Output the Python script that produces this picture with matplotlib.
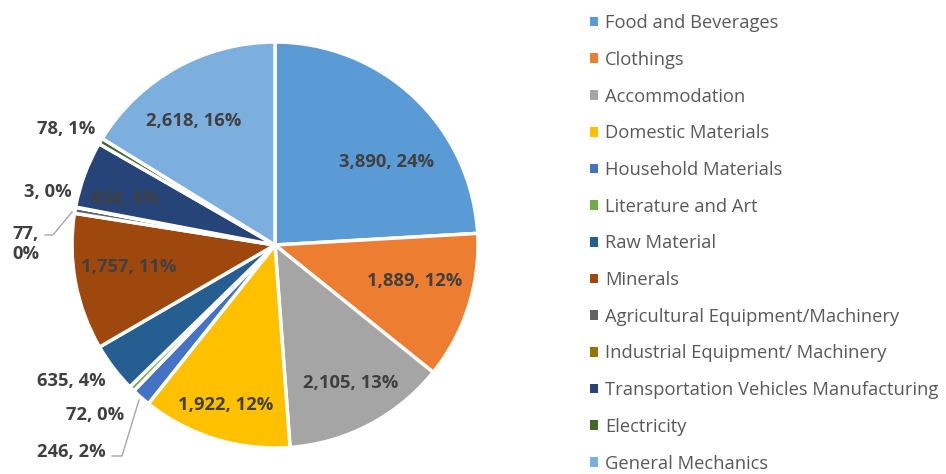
import matplotlib.pyplot as plt
from matplotlib.patches import Patch

categories = ['Food and Beverages', 'Clothings', 'Accommodation', 'Domestic Materials',
              'Household Materials', 'Literature and Art', 'Raw Material', 'Minerals',
              'Agricultural Equipment/Machinery', 'Industrial Equipment/ Machinery',
              'Transportation Vehicles Manufacturing', 'Electricity', 'General Mechanics']
values = [3890, 1889, 2105, 1922, 246, 72, 635, 1757, 77, 3, 858, 78, 2618]
percent_labels = ['24%', '12%', '13%', '12%', '2%', '0%', '4%', '11%', '0%', '0%', '5%', '1%', '16%']
colors = ['#5B9BD5', '#ED7D31', '#A5A5A5', '#FFC000', '#4472C4', '#70AD47', '#255E91',
          '#9E480E', '#636363', '#997300', '#264478', '#43682B', '#7CAFDD']

W, H = 946, 474
cx, cy, r = 275, 245, 203

def px(x, y):
    # pixel position -> pie data coords
    return (x - cx) / r, (cy - y) / r

plt.rcParams['font.family'] = ['Open Sans', 'DejaVu Sans']

fig = plt.figure(figsize=(W / 100, H / 100), dpi=100)
ax = fig.add_axes([(cx - r) / W, (H - cy - r) / H, 2 * r / W, 2 * r / H])

wedges, _ = ax.pie(values, colors=colors, startangle=90, counterclock=False, radius=1,
                   wedgeprops=dict(edgecolor='white', linewidth=2.5))
ax.set_xlim(-1, 1)
ax.set_ylim(-1, 1)
ax.set_aspect('equal')
ax.axis('off')

texts = [f'{v:,}, {p}' for v, p in zip(values, percent_labels)]
texts[8] = '77,\n0%'

# label positions (pixels): inside labels for big slices, outside for tiny ones
label_pos = {
    0: (387, 162), 1: (415, 281), 2: (351, 383), 3: (226, 405),
    4: (71, 452), 5: (95, 415), 6: (71, 381), 7: (129, 267),
    8: (26, 244), 9: (48, 192), 10: (125, 199), 11: (66, 129), 12: (194, 121),
}
for i, t in enumerate(texts):
    x, y = px(*label_pos[i])
    ax.text(x, y, t, ha='center', va='center', fontsize=13.2, fontweight='bold',
            color='#404040', linespacing=1.2, clip_on=False)

# leader lines
for pts in [[(112, 456), (122, 456), (139, 400)], [(45, 235), (53, 235), (72, 212)]]:
    xs, ys = zip(*[px(*p) for p in pts])
    ax.plot(xs, ys, color='#A6A6A6', lw=1, clip_on=False)

handles = [Patch(facecolor=c, edgecolor='none') for c in colors]
fig.legend(handles, categories, loc='upper left', bbox_to_anchor=(581 / W, 1 - 5 / H),
           frameon=False, fontsize=13.2, handlelength=0.44, handleheight=0.44,
           handletextpad=0.38, labelspacing=1.02, labelcolor='#595959', borderpad=0)

fig.savefig('out.png', dpi=100)
